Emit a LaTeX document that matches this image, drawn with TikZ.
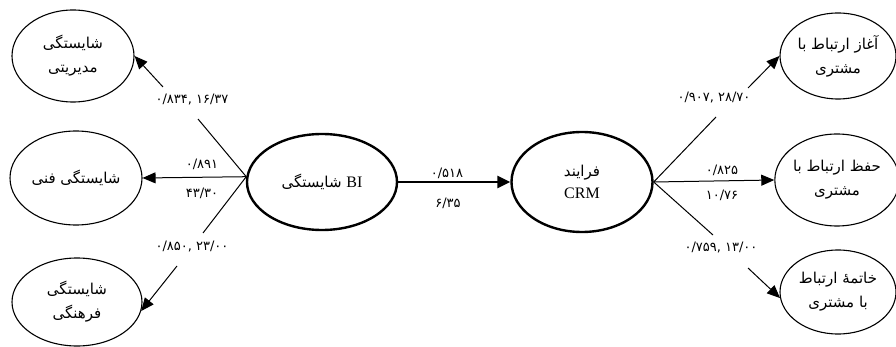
\documentclass[tikz,border=0pt]{standalone}
\usepackage{fontspec}
\setmainfont{Liberation Serif}
\newfontfamily\fa[Script=Arabic]{DejaVu Sans}
\newfontfamily\fanum{DejaVu Sans}
\TeXXeTstate=1
\usetikzlibrary{shapes.geometric,arrows.meta}
\begin{document}
\begin{tikzpicture}[x=1pt,y=-1pt,
  ell/.style={ellipse, draw, line width=1.1pt, inner sep=0pt, align=center,
    font=\fa\fontsize{15}{24}\selectfont},
  bigell/.style={ell, line width=2.4pt},
  num/.style={font=\fanum\fontsize{13}{15}\selectfont, inner sep=0pt},
  conn/.style={line width=1pt},
  arr/.style={conn, -{Triangle[length=13pt,width=11pt]}},
  mainarr/.style={line width=2.4pt, -{Triangle[length=13pt,width=12pt]}}
]
\useasboundingbox (0,0) rectangle (896,347);

% left nodes
\node[ell, minimum width=122pt, minimum height=92pt] (mod) at (73,56)
  {\beginR شایستگی\endR\\\beginR مدیریتی\endR};
\node[ell, minimum width=132pt, minimum height=94pt] (fanni) at (76,178)
  {\beginR شایستگی فنی\endR};
\node[ell, minimum width=130pt, minimum height=88pt] (farh) at (77,302)
  {\beginR شایستگی\endR\\\beginR فرهنگی\endR};

% central nodes
\node[bigell, minimum width=150pt, minimum height=96pt] (bi) at (322,182)
  {\beginR شایستگی\endR\ {\rmfamily\fontsize{16}{18}\selectfont BI}};
\node[bigell, minimum width=141pt, minimum height=100pt] (crm) at (582,182)
  {\beginR فرایند\endR\\[-2pt]{\rmfamily\fontsize{16}{18}\selectfont CRM}};

% right nodes
\node[ell, minimum width=116pt, minimum height=86pt] (aghaz) at (838,56)
  {\beginR آغاز ارتباط با\endR\\\beginR مشتری\endR};
\node[ell, minimum width=118pt, minimum height=92pt] (hefz) at (837,180)
  {\beginR حفظ ارتباط با\endR\\\beginR مشتری\endR};
\node[ell, minimum width=116pt, minimum height=84pt] (khatm) at (838,292)
  {\beginR خاتمهٔ ارتباط\endR\\\beginR با مشتری\endR};

% break points of the interrupted connectors
\coordinate (ul1) at (198,119);
\coordinate (ul2) at (163,87);
\coordinate (ll1) at (203,233);
\coordinate (ll2) at (177,266);
\coordinate (ur1) at (716,117);
\coordinate (ur2) at (748,88);
\coordinate (lr1) at (713,235);
\coordinate (lr2) at (748,268);

% left connectors
\draw[conn] (bi.176) -- (ul1);
\draw[arr] (ul2) -- (mod.east);
\draw[arr] (bi.176) -- (fanni.east);
\draw[conn] (bi.176) -- (ll1);
\draw[arr] (ll2) -- (farh.-8);

% main connector
\draw[mainarr] (bi.east) -- (crm.west);

% right connectors
\draw[conn] (crm.east) -- (ur1);
\draw[arr] (ur2) -- (aghaz.west);
\draw[arr] (crm.east) -- (hefz.west);
\draw[conn] (crm.east) -- (lr1);
\draw[arr] (lr2) -- (khatm.186);

% labels (numbers read left to right, as printed)
\node[num] (lmod) at (192,100) {۰/۸۳۴, ۱۶/۳۷};
\node[num] (lfa1) at (202,164) {۰/۸۹۱};
\node[num] (lfa2) at (202,193) {۴۳/۳۰};
\node[num] (lfar) at (192,247) {۰/۸۵۰, ۲۳/۰۰};
\node[num] (lm1) at (447,173) {۰/۵۱۸};
\node[num] (lm2) at (448,203) {۶/۳۵};
\node[num] (lag) at (714,98) {۰/۹۰۷, ۲۸/۷۰};
\node[num] (lhe1) at (722,170) {۰/۸۲۵};
\node[num] (lhe2) at (722,195) {۱۰/۷۶};
\node[num] (lkh) at (721,248) {۰/۷۵۹, ۱۳/۰۰};
\end{tikzpicture}
\end{document}
